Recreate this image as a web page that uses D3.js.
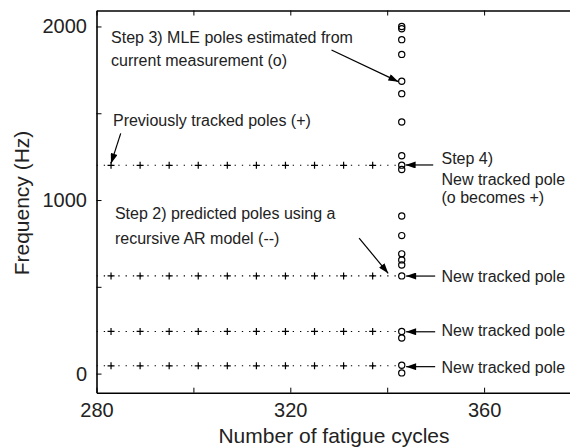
<!DOCTYPE html>
<html>
<head>
<meta charset="utf-8">
<script src="https://cdn.jsdelivr.net/npm/d3@7"></script>
<style>
body { margin: 0; background: #fff; }
svg { display: block; font-family: "Liberation Sans", Arial, Helvetica, sans-serif; }
</style>
</head>
<body>
<svg id="drawing_region"></svg>
<script>
// cycles at which the poles were tracked (+)
const trackCycles = [277, 283, 289, 295, 301, 307, 313, 319, 325, 331, 337];
// cycle of the current measurement
const currentCycle = 343;

// tracked pole frequencies (Hz), one array per track
const track1 = [1200, 1200, 1200, 1200, 1200, 1200, 1200, 1200, 1200, 1200, 1200];
const track2 = [563, 563, 563, 563, 563, 563, 563, 563, 563, 563, 563];
const track3 = [243, 243, 243, 243, 243, 243, 243, 243, 243, 243, 243];
const track4 = [45, 45, 45, 45, 45, 45, 45, 45, 45, 45, 45];

// predicted poles at the current cycle (recursive AR model)
const predictedPoles = [1200, 563, 243, 45];

// MLE poles estimated from the current measurement (o)
const mlePoles = [2000, 1987, 1924, 1839, 1684, 1613, 1450, 1255, 1201, 1176,
                  908, 795, 690, 655, 626, 563, 243, 205, 48, 4];

// axis ticks
const xTicks = [280, 300, 320, 340, 360, 380];
const xTickLabels = ['280', '', '320', '', '360', ''];
const yTicks = [0, 500, 1000, 1500, 2000];
const yTickLabels = ['0', '', '1000', '', '2000'];

// annotations, in data units (cycles, Hz)
const noteTexts = [
    {x: 283.0, y: 1902, text: 'Step 3) MLE poles estimated from'},
    {x: 283.0, y: 1775, text: 'current measurement (o)'},
    {x: 283.4, y: 1429, text: 'Previously tracked poles (+)'},
    {x: 283.8, y: 889,  text: 'Step 2) predicted poles using a'},
    {x: 283.8, y: 744,  text: 'recursive AR model (--)'},
    {x: 351.2, y: 1205, text: 'Step 4)'},
    {x: 351.2, y: 1089, text: 'New tracked pole'},
    {x: 351.2, y: 983,  text: '(o becomes +)'},
    {x: 351.2, y: 528,  text: 'New tracked pole'},
    {x: 351.2, y: 214,  text: 'New tracked pole'},
    {x: 351.2, y: 6,    text: 'New tracked pole'}
];
const noteArrows = [
    {x1: 285.0, y1: 1384, x2: 283.0, y2: 1211},
    {x1: 328.5, y1: 1864, x2: 342.3, y2: 1682},
    {x1: 349.5, y1: 1202, x2: 343.8, y2: 1202},
    {x1: 334.2, y1: 781,  x2: 340.2, y2: 578},
    {x1: 349.9, y1: 562,  x2: 343.9, y2: 562},
    {x1: 349.9, y1: 241,  x2: 343.9, y2: 241},
    {x1: 349.9, y1: 40,   x2: 343.9, y2: 40}
];

class PoleChart {

    constructor( config ) {
        this.config = config;
        this.init();
    }

    init() {
        let self = this;

        self.svg = d3.select( self.config.parent )
            .attr('width', self.config.width)
            .attr('height', self.config.height);

        self.inner_width = self.config.width - self.config.margin.left - self.config.margin.right;
        self.inner_height = self.config.height - self.config.margin.top - self.config.margin.bottom;

        self.chart = self.svg.append('g')
            .attr('transform', `translate(${self.config.margin.left}, ${self.config.margin.top})`);

        self.xscale = d3.scaleLinear()
            .domain([280, 380])
            .range([0, self.inner_width]);

        self.yscale = d3.scaleLinear()
            .domain([-110, 2092])
            .range([self.inner_height, 0]);

        self.svg.append('defs').append('clipPath')
            .attr('id', 'plot_clip')
            .append('rect')
            .attr('width', self.inner_width)
            .attr('height', self.inner_height);

        self.svg.select('defs').append('marker')
            .attr('id', 'head')
            .attr('markerUnits', 'userSpaceOnUse')
            .attr('viewBox', '0 0 10 7')
            .attr('markerWidth', 11)
            .attr('markerHeight', 7)
            .attr('refX', 10)
            .attr('refY', 3.5)
            .attr('orient', 'auto')
            .append('path')
            .attr('d', 'M0,0 L10,3.5 L0,7 Z')
            .attr('fill', '#000');
    }

    render() {
        let self = this;

        // axes, ticks inside the box
        const xaxis = d3.axisBottom( self.xscale )
            .tickValues(xTicks)
            .tickFormat( (d, i) => xTickLabels[i] )
            .tickSizeInner(-5).tickSizeOuter(0).tickPadding(10);
        const xaxis_top = d3.axisTop( self.xscale )
            .tickValues(xTicks).tickFormat('')
            .tickSizeInner(-5).tickSizeOuter(0);
        const yaxis = d3.axisLeft( self.yscale )
            .tickValues(yTicks)
            .tickFormat( (d, i) => yTickLabels[i] )
            .tickSizeInner(-5).tickSizeOuter(0).tickPadding(9.5);

        const gx = self.chart.append('g')
            .attr('transform', `translate(0, ${self.inner_height})`)
            .call(xaxis);
        const gt = self.chart.append('g').call(xaxis_top);
        const gy = self.chart.append('g').call(yaxis);

        [gx, gt, gy].forEach( g => {
            g.select('.domain').attr('stroke-width', 1.6);
            g.selectAll('.tick line').attr('stroke-width', 1);
            g.selectAll('text')
                .attr('font-size', 20)
                .attr('font-family', '"Liberation Sans", Arial, sans-serif')
                .attr('fill', '#222');
        });

        // tracks: dotted line from tracked poles to predicted pole
        const tracks = [track1, track2, track3, track4];
        const dotPeriod = (self.xscale(trackCycles[2]) - self.xscale(trackCycles[1])) / 4;
        const line = d3.line()
            .x( d => self.xscale(d.x) )
            .y( d => self.yscale(d.y) );

        const plot = self.chart.append('g').attr('clip-path', 'url(#plot_clip)');

        tracks.forEach( (track, k) => {
            const pts = track.map( (v, i) => ({x: trackCycles[i], y: v}) );
            pts.push({x: currentCycle, y: predictedPoles[k]});

            plot.append('path')
                .attr('d', line(pts))
                .attr('fill', 'none')
                .attr('stroke', '#000')
                .attr('stroke-width', 1.1)
                .attr('stroke-dasharray', `1.3 ${dotPeriod - 1.3}`);

            plot.selectAll(null)
                .data(pts.slice(0, -1))
                .enter()
                .append('path')
                .attr('d', d => {
                    const cx = self.xscale(d.x), cy = self.yscale(d.y);
                    return `M${cx - 3.5},${cy}H${cx + 3.5}M${cx},${cy - 3.5}V${cy + 3.5}`;
                })
                .attr('stroke', '#000')
                .attr('stroke-width', 1.2);
        });

        // MLE poles (o)
        plot.selectAll('circle')
            .data(mlePoles)
            .enter()
            .append('circle')
            .attr('cx', self.xscale(currentCycle))
            .attr('cy', d => self.yscale(d))
            .attr('r', 3.1)
            .attr('fill', 'none')
            .attr('stroke', '#000')
            .attr('stroke-width', 1.2);

        // annotations
        self.chart.selectAll('.note')
            .data(noteTexts)
            .enter()
            .append('text')
            .attr('class', 'note')
            .attr('x', d => self.xscale(d.x))
            .attr('y', d => self.yscale(d.y))
            .attr('font-size', 16)
            .attr('fill', '#222')
            .text( d => d.text );

        self.chart.selectAll('.arrow')
            .data(noteArrows)
            .enter()
            .append('line')
            .attr('class', 'arrow')
            .attr('x1', d => self.xscale(d.x1))
            .attr('y1', d => self.yscale(d.y1))
            .attr('x2', d => self.xscale(d.x2))
            .attr('y2', d => self.yscale(d.y2))
            .attr('stroke', '#000')
            .attr('stroke-width', 1.2)
            .attr('marker-end', 'url(#head)');

        // axis titles
        self.svg.append('text')
            .attr('x', 334)
            .attr('y', 442.5)
            .attr('text-anchor', 'middle')
            .attr('font-size', 21)
            .attr('fill', '#222')
            .text('Number of fatigue cycles');

        self.svg.append('text')
            .attr('transform', `translate(29, 203) rotate(-90)`)
            .attr('text-anchor', 'middle')
            .attr('font-size', 21)
            .attr('fill', '#222')
            .text('Frequency (Hz)');
    }
}

const config = {
    parent: '#drawing_region',
    width: 570,
    height: 448,
    margin: {top: 10.5, right: -11, bottom: 55.3, left: 96.5}
};

const pole_chart = new PoleChart( config );
pole_chart.render();
</script>
</body>
</html>
